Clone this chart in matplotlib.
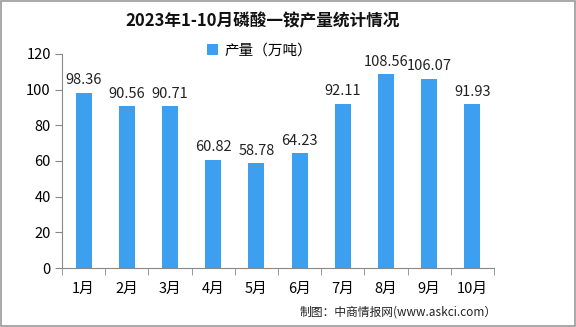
import matplotlib
matplotlib.use("Agg")
import matplotlib.pyplot as plt

months = ["1月", "2月", "3月", "4月", "5月", "6月", "7月", "8月", "9月", "10月"]
output = [98.36, 90.56, 90.71, 60.82, 58.78, 64.23, 92.11, 108.56, 106.07, 91.93]
yticks = [0, 20, 40, 60, 80, 100, 120]

plt.rcParams['font.family'] = ['Noto Sans CJK SC', 'DejaVu Sans']

fig = plt.figure(figsize=(5.76, 3.27), dpi=100)
ax = fig.add_axes([0.1076, 0.1804, 0.75, 0.6545])

x = list(range(len(months)))
bars = ax.bar(x, output, width=0.37, color="#3d9ff0", label="产量（万吨）", zorder=2)
for xi, v in zip(x, output):
    ax.text(xi, v + 3, f"{v:.2f}", ha="center", va="bottom", fontsize=10.5, color="#222222")

ax.set_xlim(-0.5, len(months) - 0.5)
ax.set_ylim(0, 120)
ax.set_yticks(yticks)
ax.set_yticklabels([str(t) for t in yticks], fontsize=10.5)
ax.set_xticks(x)
ax.set_xticklabels(months, fontsize=10.5)
ax.set_xticks([i - 0.5 for i in range(len(months) + 1)], minor=True)
ax.tick_params(axis="x", which="major", length=0, pad=10)
ax.tick_params(axis="x", which="minor", length=5, color="#888888", direction="out")
ax.tick_params(axis="y", length=5, color="#888888", direction="out", pad=3)
for s in ["top", "right"]:
    ax.spines[s].set_visible(False)
ax.spines["left"].set_color("#888888")
ax.spines["bottom"].set_color("#888888")

fig.text(0.455, 0.935, "2023年1-10月磷酸一铵产量统计情况", ha="center", va="center",
         fontsize=12, fontweight="bold", color="#111111")
fig.legend(loc="center", bbox_to_anchor=(0.45, 0.845), frameon=False, fontsize=10.5,
           handlelength=0.8, handleheight=0.8, handletextpad=0.4)
fig.text(0.863, 0.045, "制图：中商情报网(www.askci.com）", ha="right", va="center",
         fontsize=8.5, color="#222222")

border = plt.Rectangle((0.001, 0.002), 0.997, 0.995, transform=fig.transFigure,
                       fill=False, edgecolor="#999999", linewidth=1.2)
fig.patches.append(border)

fig.savefig("out.png", dpi=100)
